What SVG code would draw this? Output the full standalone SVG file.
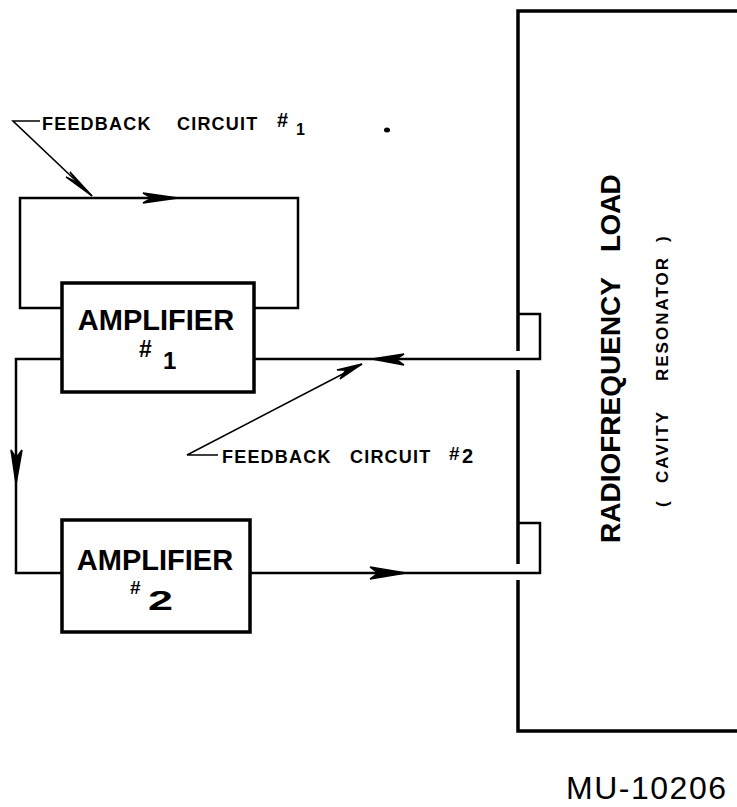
<svg xmlns="http://www.w3.org/2000/svg" width="737" height="807" viewBox="0 0 737 807">
<style>
.ln{fill:none;stroke:#000;stroke-width:2.5;stroke-linejoin:miter}
.bx{fill:#fff;stroke:#000;stroke-width:3.5}
.thin{fill:none;stroke:#000;stroke-width:1.6}
.ah{fill:#000;stroke:#000;stroke-width:1.5;stroke-linejoin:miter}
.t{font-family:"Liberation Sans",Arial,sans-serif;font-weight:bold;fill:#000}
.fb{font-size:18px;letter-spacing:1.2px}
.amp{font-size:29px}
</style>
<rect width="737" height="807" fill="#fff"/>
<g id="connectors">
  <path class="ln" d="M62,308 H20 V198 H298 V308 H254"/>
  <path class="ah" d="M178,198 L143,193 L152,198 L143,203 Z"/>
  <path class="ln" d="M254,359 H540 V314 H519"/>
  <path class="ah" d="M372,359 L404,354 L396,359 L404,365 Z"/>
  <path class="ln" d="M62,359 H16 V573 H62"/>
  <path class="ah" d="M16,484 L11,450 L16,458 L22,450 Z"/>
  <path class="ln" d="M250,573 H540 V523 H519"/>
  <path class="ah" d="M406,573 L370,567 L378,573 L370,579 Z"/>
  <path class="thin" d="M40,121 H13 L92,196"/>
  <path class="ah" d="M92,196 L70,172 L78,183 L66,177 Z"/>
  <path class="thin" d="M218,455 H187 L362,364"/>
  <path class="ah" d="M362,364 L337,370 L346,370 L340,379 Z"/>
</g>
<g id="load">
  <path class="ln" d="M737,11 H518 V351 M518,370 V564 M518,580 V731 H737" style="stroke-width:3.5"/>
  <text class="t" transform="translate(620,0) rotate(-90)" font-size="28"><tspan x="-543" y="0">RADIOFREQUENCY</tspan><tspan x="-252" y="0" letter-spacing="-0.5">LOAD</tspan></text>
  <text class="t" transform="translate(668,0) rotate(-90)" font-size="17" letter-spacing="2"><tspan x="-507" y="0">(</tspan><tspan x="-483" y="0">CAVITY</tspan><tspan x="-381" y="0">RESONATOR</tspan><tspan x="-242" y="0">)</tspan></text>
</g>
<g id="amp1">
  <rect class="bx" x="62" y="283" width="192" height="109"/>
  <text class="t"><tspan class="amp" x="156" y="330" text-anchor="middle">AMPLIFIER</tspan><tspan x="139" y="357" font-size="23">#</tspan><tspan x="163" y="369" font-size="24">1</tspan></text>
</g>
<g id="amp2">
  <rect class="bx" x="62" y="520" width="188" height="112"/>
  <text class="t"><tspan class="amp" x="155" y="570" text-anchor="middle">AMPLIFIER</tspan><tspan x="130" y="594" font-size="19">#</tspan><tspan x="148" y="610" font-size="28" textLength="25" lengthAdjust="spacingAndGlyphs">2</tspan></text>
</g>
<g id="label-fb1">
  <text class="t fb"><tspan x="42" y="130">FEEDBACK</tspan><tspan x="177" y="130">CIRCUIT</tspan><tspan x="277" y="127" font-size="20" letter-spacing="0">#</tspan><tspan x="296" y="135" font-size="16" letter-spacing="0">1</tspan></text>
</g>
<g id="label-fb2">
  <text class="t fb"><tspan x="222" y="463">FEEDBACK</tspan><tspan x="350" y="463">CIRCUIT</tspan><tspan x="449" y="460" font-size="19" letter-spacing="0">#</tspan><tspan x="462" y="463" font-size="20" letter-spacing="0">2</tspan></text>
</g>
<ellipse cx="387" cy="130" rx="3" ry="2.5" fill="#000"/>
<text x="566" y="799" font-family="Liberation Sans, Arial, sans-serif" font-size="32" fill="#000" textLength="160" lengthAdjust="spacing">MU-10206</text>
</svg>
